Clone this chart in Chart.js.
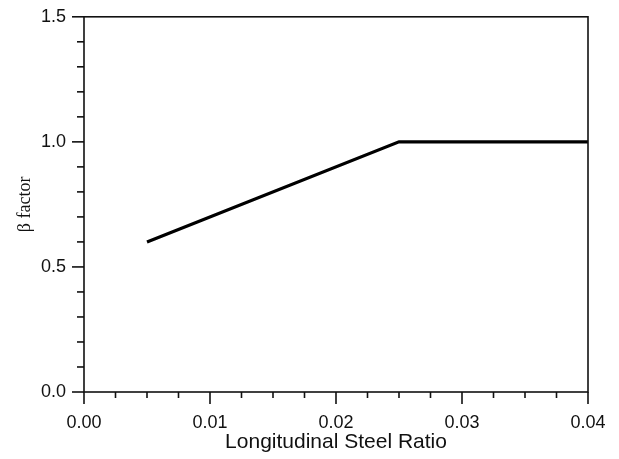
<!DOCTYPE html>
<html>
<head>
<meta charset="utf-8">
<script src="https://cdn.jsdelivr.net/npm/chart.js@4"></script>
<style>
  body { margin: 0; background: #fff; }
  #wrap { width: 619px; height: 459px; position: relative; }
</style>
</head>
<body>
<div id="wrap"><canvas id="chart"></canvas></div>
<script>
// values
const ratioValues = [0.005, 0.025, 0.04];
const betaValues = [0.6, 1.0, 1.0];

const xMajorLabels = ["0.00", "0.01", "0.02", "0.03", "0.04"];
const yMajorLabels = ["0.0", "0.5", "1.0", "1.5"];

const ink = "#111";

// draws the in/out tick marks and the box round the plot
const frameTicks = {
  id: "frameTicks",
  afterDraw(chart) {
    const ctx = chart.ctx;
    const area = chart.chartArea;
    const xs = chart.scales.x;
    const ys = chart.scales.y;
    ctx.save();
    ctx.strokeStyle = ink;
    ctx.lineWidth = 1.6;
    ctx.strokeRect(area.left, area.top, area.right - area.left, area.bottom - area.top);

    xs.ticks.forEach((t) => {
      const px = xs.getPixelForValue(t.value);
      const len = t.label !== "" ? 12 : 6;
      ctx.beginPath();
      ctx.moveTo(px, area.bottom);
      ctx.lineTo(px, area.bottom + len);
      ctx.stroke();
    });
    ys.ticks.forEach((t) => {
      const py = ys.getPixelForValue(t.value);
      const len = t.label !== "" ? 12 : 7;
      ctx.beginPath();
      ctx.moveTo(area.left, py);
      ctx.lineTo(area.left - len, py);
      ctx.stroke();
    });
    ctx.restore();
  },
};

const ctx = document.getElementById("chart").getContext("2d");

new Chart(ctx, {
  type: "line",
  data: {
    datasets: [
      {
        label: "beta",
        data: ratioValues.map((r, i) => ({ x: r, y: betaValues[i] })),
        borderColor: "#000",
        borderWidth: 3.2,
        pointRadius: 0,
        fill: false,
        tension: 0,
      },
    ],
  },
  options: {
    responsive: true,
    maintainAspectRatio: false,
    animation: false,
    layout: { padding: { top: 15, right: 31, left: 0, bottom: 0 } },
    plugins: {
      legend: { display: false },
      tooltip: { enabled: false },
    },
    scales: {
      x: {
        type: "linear",
        min: 0,
        max: 0.04,
        afterFit: (scale) => { scale.height = 67; },
        grid: { drawOnChartArea: false, tickLength: 11, tickColor: "transparent" },
        border: { display: false },
        ticks: {
          stepSize: 0.0025,
          autoSkip: false,
          maxRotation: 0,
          padding: 9,
          color: ink,
          font: { family: "Liberation Sans, Arial", size: 18 },
          callback: (v) => {
            const k = Math.round(v / 0.01);
            return Math.abs(v - k * 0.01) < 1e-9 ? xMajorLabels[k] : "";
          },
        },
        title: {
          display: true,
          text: "Longitudinal Steel Ratio",
          color: ink,
          font: { family: "Liberation Sans, Arial", size: 21 },
          padding: { top: 0, bottom: 4 },
        },
      },
      y: {
        type: "linear",
        min: 0,
        max: 1.5,
        afterFit: (scale) => { scale.width = 84; },
        grid: { drawOnChartArea: false, tickLength: 12, tickColor: "transparent" },
        border: { display: false },
        ticks: {
          stepSize: 0.1,
          autoSkip: false,
          padding: 6,
          color: ink,
          font: { family: "Liberation Sans, Arial", size: 18 },
          callback: (v) => {
            const k = Math.round(v / 0.5);
            return Math.abs(v - k * 0.5) < 1e-9 ? yMajorLabels[k] : "";
          },
        },
        title: {
          display: true,
          text: "β factor",
          color: ink,
          font: { family: "Liberation Serif, Times New Roman", size: 18 },
          padding: { top: 14, bottom: 0 },
        },
      },
    },
  },
  plugins: [frameTicks],
});
</script>
</body>
</html>
